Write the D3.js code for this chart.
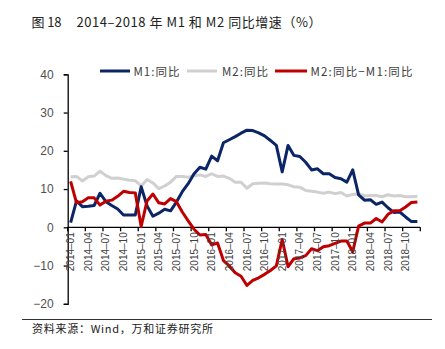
<!DOCTYPE html>
<html><head><meta charset="utf-8">
<script src="https://cdn.jsdelivr.net/npm/d3@7/dist/d3.min.js"></script>
<style>body{margin:0;background:#fff}svg{display:block}</style>
</head><body>
<script>
const months = [];
for (let y = 2014; y <= 2018; y++) for (let m = 1; m <= 12; m++) months.push(y + "–" + String(m).padStart(2, "0"));
const m1 = [1.2,6.9,5.4,5.5,5.7,8.9,6.7,5.7,4.8,3.2,3.2,3.2,
 10.6,5.6,2.9,3.7,4.7,4.3,6.6,9.3,11.4,14.0,15.7,15.2,
 18.6,17.4,22.1,22.9,23.7,24.6,25.4,25.3,24.7,23.9,22.7,21.4,
 14.5,21.4,18.8,18.5,17.0,15.0,15.3,14.0,14.0,13.0,12.7,11.8,
 15.0,8.5,7.1,7.2,6.0,6.6,5.1,3.9,4.0,2.7,1.5,1.5];
const m2 = [13.2,13.3,12.1,13.2,13.4,14.7,13.5,12.8,12.9,12.6,12.3,12.2,
 10.8,12.5,11.6,10.1,10.8,11.8,13.3,13.3,13.1,13.5,13.7,13.3,
 14.0,13.3,13.4,12.8,11.8,11.8,10.2,11.4,11.5,11.6,11.4,11.3,
 11.3,11.1,10.6,10.5,9.6,9.4,9.2,8.9,9.2,8.8,9.1,8.2,
 8.6,8.8,8.2,8.3,8.3,8.0,8.5,8.2,8.3,8.0,8.0,8.1];
const diff = [12.0,6.4,6.7,7.7,7.7,5.8,6.8,7.1,8.1,9.4,9.1,9.0,
 0.2,6.9,8.7,6.4,6.1,7.5,6.7,4.0,1.7,-0.5,-2.0,-1.9,
 -4.6,-4.1,-8.7,-10.1,-11.9,-12.8,-15.2,-13.9,-13.2,-12.3,-11.3,-10.1,
 -3.2,-10.3,-8.2,-8.0,-7.4,-5.6,-6.1,-5.1,-4.8,-4.2,-3.6,-3.6,
 -6.4,0.3,1.1,1.1,2.3,1.4,3.4,4.3,4.3,5.3,6.5,6.6];
const yTicks = [-20,-10,0,10,20,30,40];
const seriesNames = ["M1:同比","M2:同比","M2:同比−M1:同比"];
const seriesColors = ["#0b2566","#d0d0d0","#c00000"];

const W = 445, H = 349;
const svg = d3.select("body").append("svg").attr("width", W).attr("height", H);
const x = d3.scaleBand().domain(months).range([67.7, 420.3]);
const y = d3.scaleLinear().domain([-20, 40]).range([303.8, 74.3]);
const cx = d => x(d) + x.bandwidth() / 2;

// title
svg.append("text").attr("x", 31.5).attr("y", 26.5)
  .attr("font-family", "'Noto Sans CJK SC', sans-serif").attr("font-size", 13).attr("fill", "#222")
  .attr("textLength", 30).attr("lengthAdjust", "spacing")
  .text("图 18");
svg.append("text").attr("x", 76.5).attr("y", 26.5)
  .attr("font-family", "'Noto Sans CJK SC', sans-serif").attr("font-size", 13).attr("fill", "#222")
  .attr("textLength", 245).attr("lengthAdjust", "spacing")
  .text("2014–2018 年 M1 和 M2 同比增速（%）");

// y axis
const yAxis = svg.append("g").attr("transform", "translate(67.7,0)")
  .call(d3.axisLeft(y).tickValues(yTicks).tickSize(4).tickPadding(10).tickFormat(d => d < 0 ? "−" + Math.abs(d) : d));
yAxis.select(".domain").attr("stroke", "#000").attr("stroke-width", 1.3);
yAxis.selectAll(".tick line").attr("stroke", "#000").attr("stroke-width", 1.3);
yAxis.selectAll("text").attr("font-family", "'Liberation Sans', Arial, sans-serif").attr("font-size", 12).attr("fill", "#505050");

// x axis at zero
const tickMonths = months.filter((d, i) => i % 3 === 0);
const xg = svg.append("g").attr("transform", `translate(0,${y(0)})`);
xg.append("line").attr("x1", 67.7).attr("x2", 420.3).attr("stroke", "#000").attr("stroke-width", 1.3);
xg.selectAll("line.tk").data(tickMonths.concat(["end"])).join("line").attr("class", "tk")
  .attr("x1", d => d === "end" ? 420.3 : x(d)).attr("x2", d => d === "end" ? 420.3 : x(d))
  .attr("y1", 0).attr("y2", 4).attr("stroke", "#000").attr("stroke-width", 1.3);

// lines
const line = d3.line().x((d, i) => cx(months[i])).y(d => y(d));
[m2, m1, diff].forEach((s, k) => {
  const idx = [1, 0, 2][k];
  svg.append("path").datum(s).attr("d", line).attr("fill", "none")
    .attr("stroke", seriesColors[idx]).attr("stroke-width", 3).attr("stroke-linejoin", "round");
});

// x labels
svg.append("g").selectAll("text").data(tickMonths).join("text")
  .attr("transform", d => `translate(${cx(d) + 3.6},${y(0) + 5}) rotate(-90)`)
  .attr("text-anchor", "end")
  .attr("font-family", "'Liberation Sans', Arial, sans-serif").attr("font-size", 10).attr("fill", "#404040")
  .text(d => d);

// legend
const lg = [{x1: 100, x2: 130, tx: 133.5, w: 46}, {x1: 187, x2: 217, tx: 222, w: 46}, {x1: 275, x2: 307, tx: 310.5, w: 102}];
lg.forEach((p, i) => {
  svg.append("line").attr("x1", p.x1).attr("x2", p.x2).attr("y1", 71).attr("y2", 71)
    .attr("stroke", seriesColors[i]).attr("stroke-width", 3);
  svg.append("text").attr("x", p.tx).attr("y", 75.5)
    .attr("font-family", "'Noto Sans CJK SC', sans-serif").attr("font-size", 11.5).attr("fill", "#404040")
    .attr("textLength", p.w).attr("lengthAdjust", "spacing")
    .text(seriesNames[i]);
});

// source
svg.append("line").attr("x1", 22).attr("x2", 432).attr("y1", 319.5).attr("y2", 319.5).attr("stroke", "#333").attr("stroke-width", 1);
svg.append("text").attr("x", 32).attr("y", 332.5)
  .attr("font-family", "'Noto Sans CJK SC', sans-serif").attr("font-size", 11).attr("fill", "#222")
  .attr("textLength", 181).attr("lengthAdjust", "spacing")
  .text("资料来源：Wind，万和证券研究所");
</script>
</body></html>
